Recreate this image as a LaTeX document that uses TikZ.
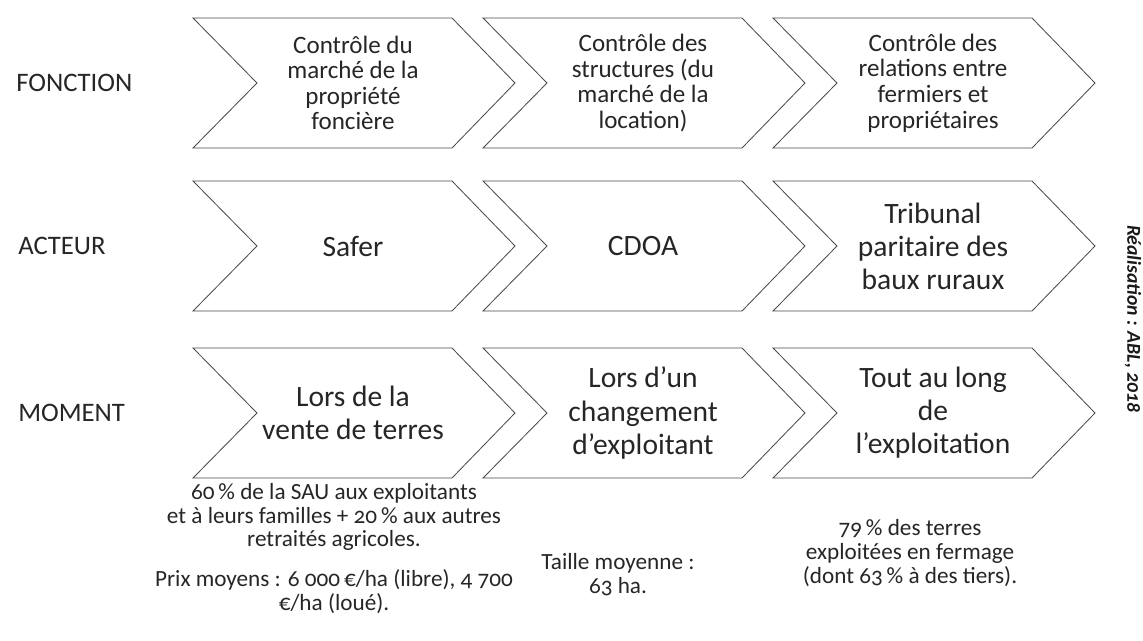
\documentclass[tikz,border=0pt]{standalone}
\usepackage{fontspec}
\setmainfont{Carlito}[Numbers=OldStyle]
\usepackage{tikz}
\usetikzlibrary{positioning, backgrounds}

\begin{document}
\begin{tikzpicture}[x=0.025cm, y=-0.025cm,
  chev/.style={draw=black!70, line width=0.6pt, fill=white},
  row label/.style={anchor=west, inner sep=0pt, text=black!85, font=\fontsize{19}{22}\selectfont},
  fct node/.style={align=center, text=black!85, font=\fontsize{17.8}{18.2}\selectfont},
  big node/.style={align=center, text=black!85, font=\fontsize{21}{23.5}\selectfont},
  note node/.style={align=center, text=black!85, font=\fontsize{16.5}{17}\selectfont}]

\useasboundingbox (0,0) rectangle (1143,640);

% rangee FONCTION
\node[fct node] (f1) at (353,83) {Contrôle du\\marché de la\\propriété\\foncière};
\node[fct node] (f2) at (643,83) {Contrôle des\\structures (du\\marché de la\\location)};
\node[fct node] (f3) at (933,83) {Contrôle des\\relations entre\\fermiers et\\propriétaires};

% rangee ACTEUR
\node[big node] (a1) at (353,246) {Safer};
\node[big node] (a2) at (643,246) {CDOA};
\node[big node] (a3) at (933,246) {Tribunal\\paritaire des\\baux ruraux};

% rangee MOMENT
\node[big node] (m1) at (353,413) {Lors de la\\vente de terres};
\node[big node] (m2) at (643,413) {Lors d’un\\changement\\d’exploitant};
\node[big node] (m3) at (933,413) {Tout au long\\de\\l’exploitation};

\begin{scope}[on background layer]
\foreach \n in {f1,f2,f3,a1,a2,a3,m1,m2,m3}
  \draw[chev, shift={(\n.center)}] (-160,-65) -- (99,-65) -- (162,0)
    -- (99,65) -- (-160,65) -- (-96,0) -- cycle;
\end{scope}

\node[row label] (lf) at (16,83) {FONCTION};
\node[row label] (la) at (18,246) {ACTEUR};
\node[row label] (lm) at (18,413) {MOMENT};

% chiffres sous les chevrons
\node[note node] (n1) at (334,517) {60\,\% de la SAU aux exploitants\\et à leurs familles + 20\,\% aux autres\\retraités agricoles.};
\node[note node] (n2) at (334,592) {Prix moyens : 6 000\,€/ha (libre), 4 700\\€/ha (loué).};
\node[note node] (n3) at (618,575) {Taille moyenne :\\63 ha.};
\node[note node] (n4) at (910,553) {79\,\% des terres\\exploitées en fermage\\(dont 63\,\% à des tiers).};

\node[rotate=-90, text=black!90, font=\fontsize{14}{17}\selectfont\bfseries\itshape] (real) at (1133,319) {Réalisation : ABL, 2018};
\end{tikzpicture}
\end{document}
